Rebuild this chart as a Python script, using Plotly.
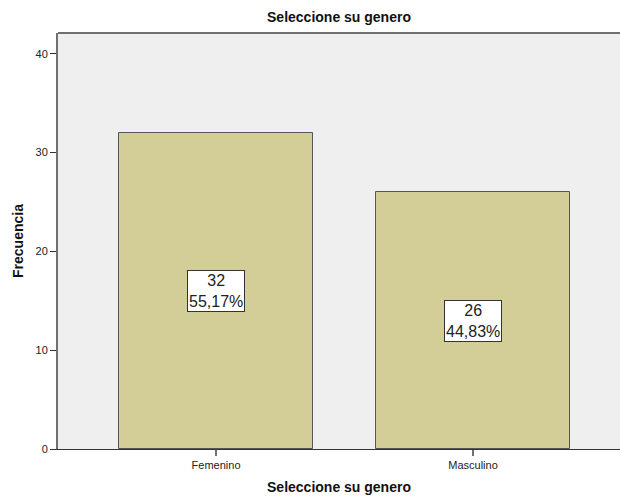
import plotly.graph_objects as go

categories = ["Femenino", "Masculino"]
counts = [32, 26]
percents = ["55,17%", "44,83%"]

bar_color = "#D3CE97"
bg_color = "#EFEFEF"
axis_color = "#707070"

fig = go.Figure()
fig.add_trace(go.Bar(
    x=[0, 1],
    y=counts,
    width=0.755,
    marker=dict(color=bar_color, line=dict(color="#555555", width=1)),
    hoverinfo="skip",
))

# value / percentage boxes at half bar height
for i, (c, p) in enumerate(zip(counts, percents)):
    fig.add_annotation(
        x=i, y=c / 2, xref="x", yref="y",
        text=f"{c}<br>{p}",
        showarrow=False,
        font=dict(family="Liberation Sans, Arial", size=16, color="#222222"),
        bgcolor="white", bordercolor="#333333", borderwidth=1, borderpad=1,
        align="center",
    )

# top frame line of the plot area
fig.add_shape(type="line", xref="paper", yref="paper", x0=0, x1=1, y0=1, y1=1,
              line=dict(color=axis_color, width=2))

fig.update_layout(
    width=620, height=497,
    margin=dict(l=58, r=0, t=33, b=48),
    paper_bgcolor="white",
    plot_bgcolor=bg_color,
    showlegend=False,
    font=dict(family="Liberation Sans, Arial", color="#222222"),
    title=dict(text="<b>Seleccione su genero</b>", x=339 / 620,
               xanchor="center", y=1 - 17 / 497, yanchor="middle",
               font=dict(size=14, color="#111111")),
    xaxis=dict(
        range=[-0.615, 1.572],
        tickmode="array", tickvals=[0, 1], ticktext=categories,
        ticks="outside", ticklen=6, tickcolor=axis_color, tickwidth=2,
        tickfont=dict(size=11), showgrid=False, zeroline=False,
        showline=True, linecolor="#333333", linewidth=1,
        title=dict(text="<b>Seleccione su genero</b>", font=dict(size=14, color="#111111"), standoff=11),
    ),
    yaxis=dict(
        range=[0, 42.1],
        tickvals=[0, 10, 20, 30, 40],
        ticks="outside", ticklen=6, tickcolor="#333333", tickwidth=1,
        tickfont=dict(size=11), showgrid=False, zeroline=False,
        showline=True, linecolor=axis_color, linewidth=2,
        title=dict(text="<b>Frecuencia</b>", font=dict(size=14, color="#111111"), standoff=9),
    ),
    bargap=0,
)

fig.write_html("out.html")
